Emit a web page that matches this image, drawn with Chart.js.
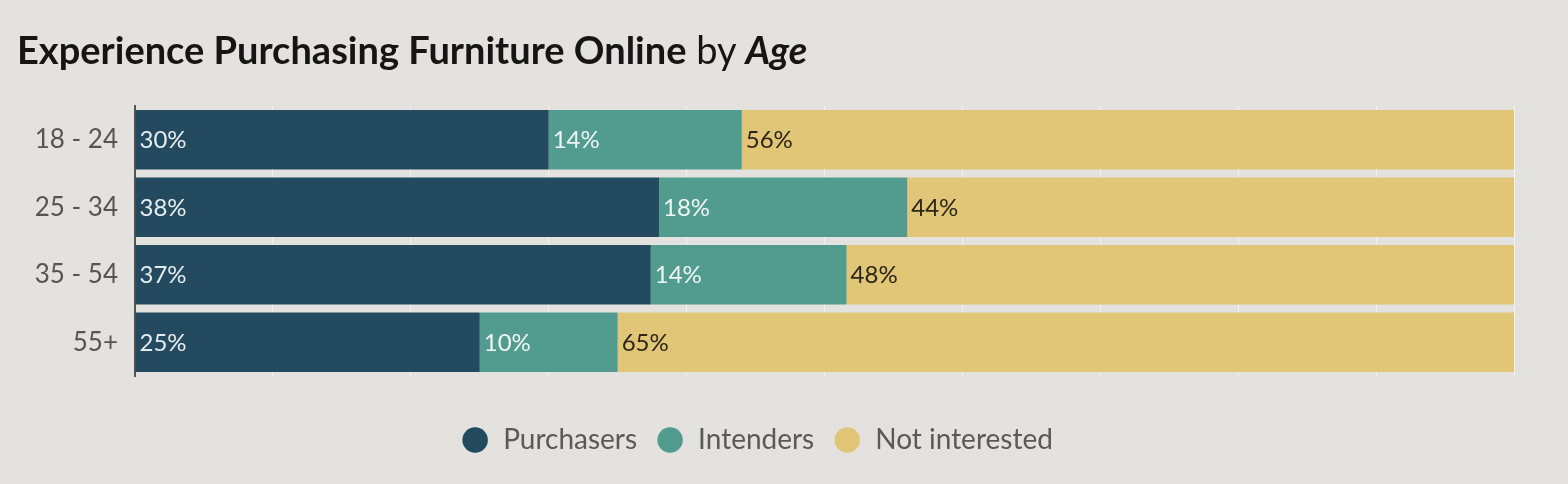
<!DOCTYPE html>
<html lang="en">
<head>
    <meta charset="UTF-8">
    <title>Experience Purchasing Furniture Online by Age</title>
    <script src="https://cdn.jsdelivr.net/npm/chart.js"></script>
    <style>
        html, body {
            margin: 0;
            padding: 0;
            background: #e3e2df;
        }
        .wrap {
            position: relative;
            width: 1568px;
            height: 484px;
        }
        .title {
            position: absolute;
            left: 17px;
            top: 27px;
            font-family: Lato, sans-serif;
            font-size: 38px;
            line-height: 1.2;
            color: #151515;
            white-space: nowrap;
        }
        .title b { font-weight: 700; }
        .title .by { font-weight: 400; }
        .title i { font-weight: 700; font-style: italic; }
        canvas { position: absolute; left: 0; top: 0; }
    </style>
</head>
<body>
    <div class="wrap">
        <canvas id="ageChart" width="1568" height="484"></canvas>
        <div class="title"><b>Experience Purchasing Furniture Online</b> <span class="by">by</span> <i>Age</i></div>
    </div>
    <script>
        // dados (percentuais)
        const ageGroups = ['18 - 24', '25 - 34', '35 - 54', '55+'];
        const purchasers = [30, 38, 37.4, 25];
        const intenders = [14, 18, 14.2, 10];
        const notInterested = [56, 44, 48.4, 65];
        const seriesNames = ['Purchasers', 'Intenders', 'Not interested'];
        const seriesColors = ['#234a5e', '#519c8e', '#e2c677'];
        const labelColors = ['#e6ecee', '#eef5f3', '#2b2618'];

        // rótulos de porcentagem dentro das barras
        const barLabels = {
            id: 'barLabels',
            afterDatasetsDraw(chart) {
                const ctx = chart.ctx;
                ctx.save();
                ctx.font = '24px Lato, sans-serif';
                ctx.textBaseline = 'middle';
                ctx.textAlign = 'left';
                chart.data.datasets.forEach((ds, i) => {
                    const meta = chart.getDatasetMeta(i);
                    meta.data.forEach((bar, j) => {
                        ctx.fillStyle = labelColors[i];
                        ctx.fillText(Math.round(ds.data[j]) + '%', bar.base + 4, bar.y + 1);
                    });
                });
                ctx.restore();
            }
        };

        const config = {
            type: 'bar',
            data: {
                labels: ageGroups,
                datasets: [
                    { label: seriesNames[0], data: purchasers, backgroundColor: seriesColors[0] },
                    { label: seriesNames[1], data: intenders, backgroundColor: seriesColors[1] },
                    { label: seriesNames[2], data: notInterested, backgroundColor: seriesColors[2] }
                ]
            },
            options: {
                indexAxis: 'y',
                responsive: false,
                animation: false,
                devicePixelRatio: 1,
                layout: { padding: { left: 0, right: 54, top: 106, bottom: 20 } },
                datasets: { bar: { barPercentage: 0.88, categoryPercentage: 1 } },
                scales: {
                    x: {
                        stacked: true,
                        min: 0,
                        max: 100,
                        afterFit(scale) { scale.height = 31; },
                        ticks: { display: false, stepSize: 10 },
                        grid: { color: 'rgba(255,255,255,0.55)', lineWidth: 1, drawTicks: false },
                        border: { display: false }
                    },
                    y: {
                        stacked: true,
                        afterFit(scale) { scale.width = 135; },
                        ticks: { color: '#555', font: { family: 'Lato, sans-serif', size: 26 }, padding: 9 },
                        grid: { display: false },
                        border: { display: true, color: '#555', width: 2 }
                    }
                },
                plugins: {
                    tooltip: { enabled: false },
                    legend: {
                        position: 'bottom',
                        labels: {
                            usePointStyle: true,
                            pointStyle: 'circle',
                            boxWidth: 28,
                            boxHeight: 18,
                            padding: 19,
                            color: '#595959',
                            font: { family: 'Lato, sans-serif', size: 28 }
                        }
                    }
                }
            },
            plugins: [barLabels]
        };

        new Chart(document.getElementById('ageChart').getContext('2d'), config);
    </script>
</body>
</html>
